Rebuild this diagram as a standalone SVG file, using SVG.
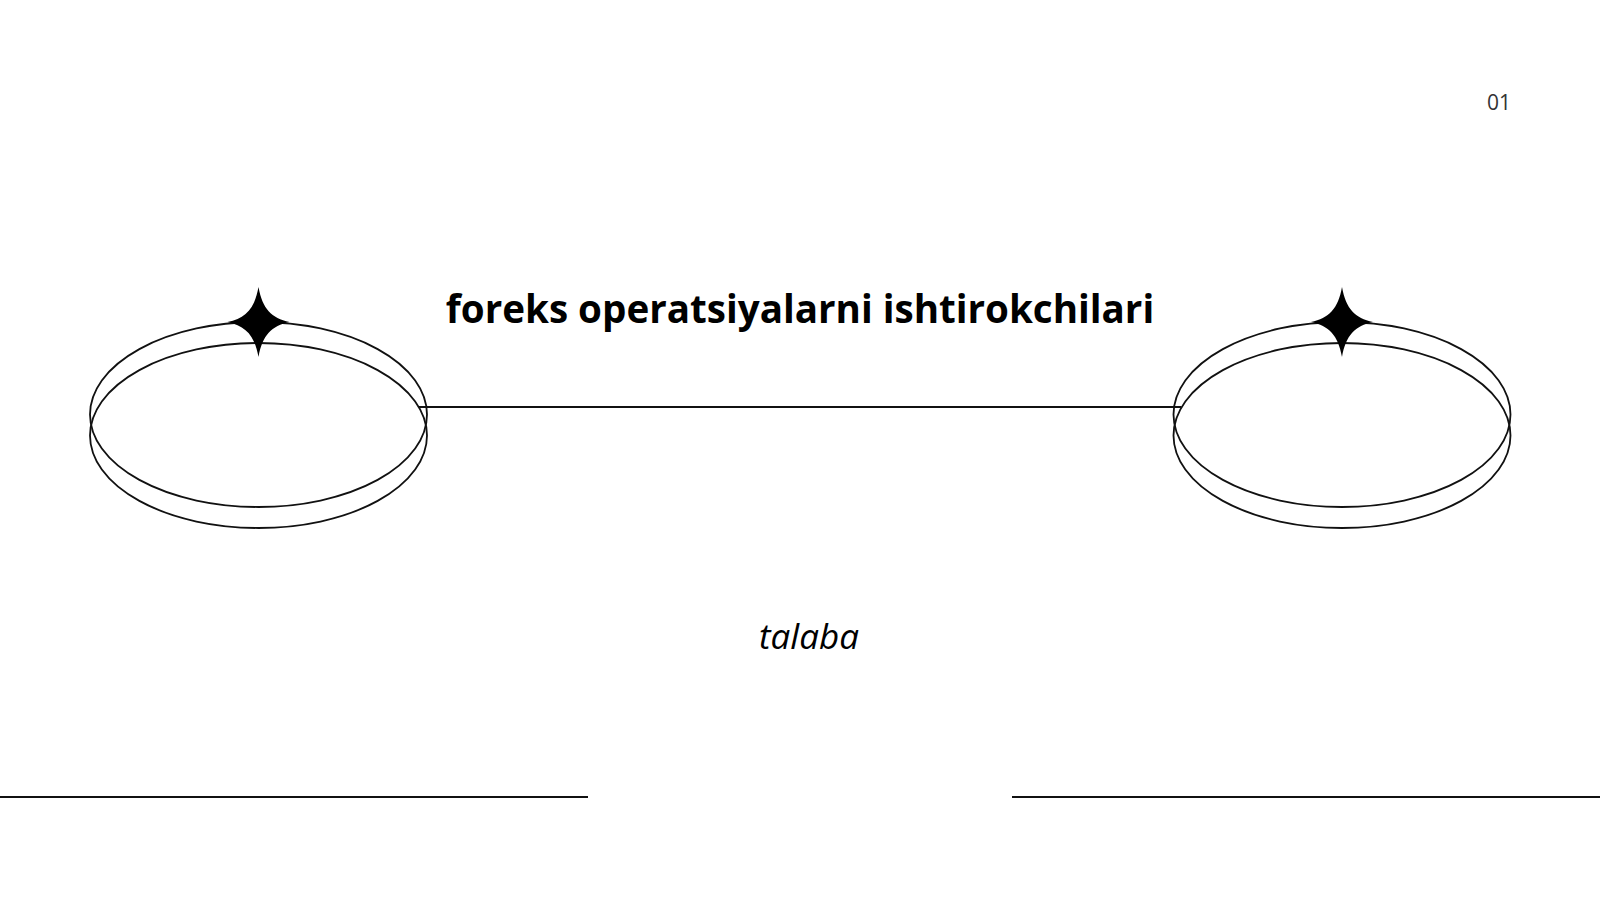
<svg xmlns="http://www.w3.org/2000/svg" width="1600" height="900" viewBox="0 0 1600 900">
  <defs>
    <style>
      .ring { fill: none; stroke: #111; stroke-width: 1.8; }
      .conn { stroke: #111; stroke-width: 1.8; fill: none; }
      .rule { stroke: #111; stroke-width: 2.2; }
      .star { fill: #000; }
      .title { font-family: "Open Sans", "Noto Sans", "Liberation Sans", sans-serif; font-weight: 700; font-size: 38.6px; fill: #000; }
      .sub { font-family: "Open Sans", "Noto Sans", "Liberation Sans", sans-serif; font-style: italic; font-size: 35px; fill: #000; }
      .num { font-family: "Open Sans", "Noto Sans", "Liberation Sans", sans-serif; font-size: 21px; fill: #333; }
    </style>
    <path id="spark" d="M0,-35 C4,-13 13,-4 31,0 C13,4 4,13 0,35 C-4,13 -13,4 -31,0 C-13,-4 -4,-13 0,-35 Z"/>
  </defs>
  <rect width="1600" height="900" fill="#fff"/>

  <g id="connectors">
    <line class="conn" x1="418.5" y1="407" x2="1181.5" y2="407"/>
  </g>

  <g id="node-left">
    <ellipse class="ring" cx="258.5" cy="414.5" rx="168.5" ry="92.5"/>
    <ellipse class="ring" cx="258.5" cy="435.5" rx="168.5" ry="92.5"/>
    <use href="#spark" class="star" x="258.5" y="322"/>
  </g>

  <g id="node-right">
    <ellipse class="ring" cx="1342" cy="414.5" rx="168.5" ry="92.5"/>
    <ellipse class="ring" cx="1342" cy="435.5" rx="168.5" ry="92.5"/>
    <use href="#spark" class="star" x="1342" y="322"/>
  </g>

  <g id="title">
    <text class="title" x="800" y="323" text-anchor="middle">foreks operatsiyalarni ishtirokchilari</text>
  </g>
  <g id="subtitle">
    <text class="sub" x="809" y="649" text-anchor="middle">talaba</text>
  </g>
  <g id="page-number">
    <text class="num" x="1487" y="110">01</text>
  </g>

  <g id="rules">
    <line class="rule" x1="0" y1="797" x2="588" y2="797"/>
    <line class="rule" x1="1012" y1="797" x2="1600" y2="797"/>
  </g>
</svg>
